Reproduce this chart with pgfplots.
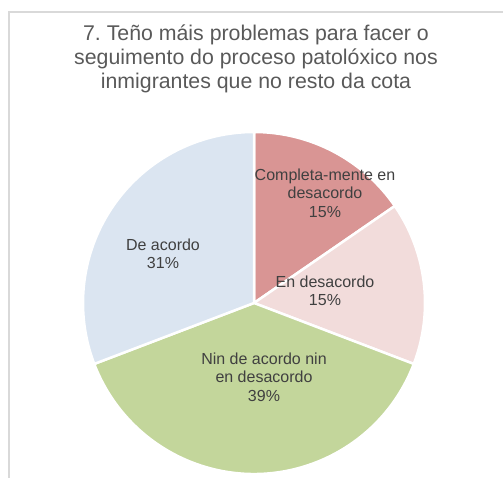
\documentclass[border=0pt]{standalone}
\usepackage{pgfplots}
\pgfplotsset{compat=1.18}
\usepackage{pgfplotstable}
\usepackage{fontspec}
\setmainfont{Liberation Sans}
\frenchspacing
\definecolor{cRed}{HTML}{D99594}
\definecolor{cPink}{HTML}{F2DCDB}
\definecolor{cGreen}{HTML}{C3D69B}
\definecolor{cBlue}{HTML}{DBE5F1}
\definecolor{txt}{HTML}{404040}
\definecolor{ttl}{HTML}{595959}
\definecolor{frm}{HTML}{D9D9D9}

% share of each answer (percent), clockwise from 12 o'clock
\pgfplotstableread{
value color
15.4 cRed
15.4 cPink
38.4 cGreen
30.8 cBlue
}\piedata

\begin{document}
\begin{tikzpicture}
\begin{axis}[x=1bp, y=1bp, xmin=0, xmax=503, ymin=0, ymax=478,
  hide axis, clip=false]
  \path[use as bounding box] (axis cs:0,0) rectangle (axis cs:503,478);
  \draw[frm, line width=1.5bp] (axis cs:9,0) -- (axis cs:9,466) -- (axis cs:503,466);
  \pgfplotsextra{%
    \def\cum{0}%
    \pgfplotsforeachungrouped \i in {0,...,3}{%
      \pgfplotstablegetelem{\i}{value}\of\piedata \let\v\pgfplotsretval
      \pgfplotstablegetelem{\i}{color}\of\piedata \let\c\pgfplotsretval
      \pgfmathsetmacro\sa{90-3.6*\cum}%
      \pgfmathsetmacro\ea{90-3.6*(\cum+\v)}%
      \filldraw[fill=\c, draw=white, line width=2.5bp, line join=round]
        (axis cs:254,175) -- ++(\sa:171bp) arc[start angle=\sa, end angle=\ea, radius=171bp] -- cycle;
      \pgfmathsetmacro\cum{\cum+\v}%
    }%
  }
  \node[align=center, text=ttl, font=\fontsize{21.3bp}{24bp}\selectfont, inner sep=0]
    at (axis cs:256,419) {7. Teño máis problemas para facer o\\seguimento do proceso patolóxico nos\\inmigrantes que no resto da cota};
  \begin{scope}[every node/.style={align=center, text=txt, font=\fontsize{16bp}{18.5bp}\selectfont, inner sep=0}]
    \node at (axis cs:325,285) {Completa-mente en\\desacordo\\15\%};
    \node at (axis cs:325,187) {En desacordo\\15\%};
    \node at (axis cs:163,224) {De acordo\\31\%};
    \node at (axis cs:264,101) {Nin de acordo nin\\en desacordo\\39\%};
  \end{scope}
\end{axis}
\end{tikzpicture}
\end{document}
